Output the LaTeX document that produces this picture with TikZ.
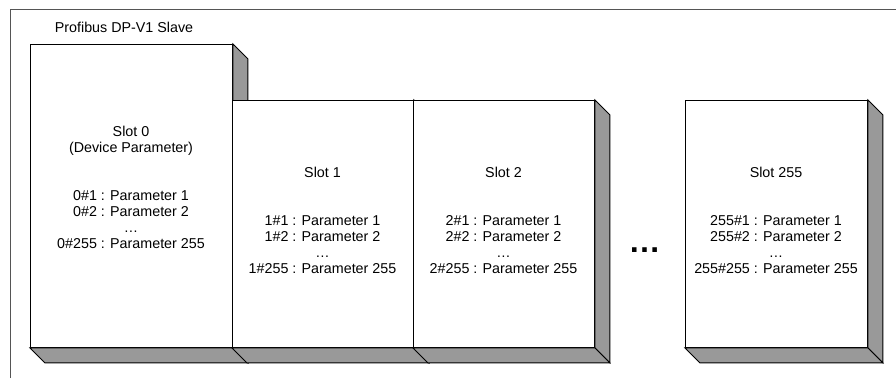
\documentclass[tikz,border=0pt]{standalone}
\usepackage{fontspec}
\setmainfont{Liberation Sans}
\definecolor{shade}{HTML}{999999}
\definecolor{framec}{HTML}{555555}
\begin{document}
\begin{tikzpicture}[x=1pt,y=-1pt,
  face/.style={draw=black, fill=white, line width=0.9pt, inner sep=0pt, anchor=north west},
  side/.style={draw=black, fill=shade, line width=0.9pt, line join=miter},
  txt/.style={font=\fontsize{14.3}{16}\selectfont, anchor=base, inner sep=0pt},
  dots/.style={font=\fontsize{32}{34}\selectfont\bfseries, anchor=base, inner sep=0pt},
  frame/.style={draw=framec, line width=1pt}]
\useasboundingbox (0,0) rectangle (896,378);
% outer frame (cut off at right and bottom)
\draw[frame] (10,378) -- (10,9.5) -- (896,9.5);
\node[txt] (title) at (124,32) {Profibus DP-V1 Slave};
% Slot 0
\node[face, minimum width=202pt, minimum height=303pt] (s0) at (30,44) {};
\draw[side] (s0.north east) -- ++(15,15) -- ([shift={(15,15)}]s0.south east) -- (s0.south east) -- cycle;
\draw[side] (s0.south west) -- (s0.south east) -- ++(15,15) -- ([shift={(15,15)}]s0.south west) -- cycle;
% Slot 1
\node[face, minimum width=181pt, minimum height=247pt] (s1) at (232,100) {};
\draw[side] (s1.north east) -- ++(15,15) -- ([shift={(15,15)}]s1.south east) -- (s1.south east) -- cycle;
\draw[side] (s1.south west) -- (s1.south east) -- ++(15,15) -- ([shift={(15,15)}]s1.south west) -- cycle;
% Slot 2
\node[face, minimum width=181pt, minimum height=247pt] (s2) at (413,100) {};
\draw[side] (s2.north east) -- ++(15,15) -- ([shift={(15,15)}]s2.south east) -- (s2.south east) -- cycle;
\draw[side] (s2.south west) -- (s2.south east) -- ++(15,15) -- ([shift={(15,15)}]s2.south west) -- cycle;
% Slot 255
\node[face, minimum width=182pt, minimum height=247pt] (s255) at (685,100) {};
\draw[side] (s255.north east) -- ++(15,15) -- ([shift={(15,15)}]s255.south east) -- (s255.south east) -- cycle;
\draw[side] (s255.south west) -- (s255.south east) -- ++(15,15) -- ([shift={(15,15)}]s255.south west) -- cycle;
% texts slot 0
\node[txt] (t0a) at (131,136) {Slot 0};
\node[txt] (t0b) at (131,152) {(Device Parameter)};
\node[txt] (t0c) at (131,200) {0\#1 : Parameter 1};
\node[txt] (t0d) at (131,216) {0\#2 : Parameter 2};
\node[txt] (t0e) at (131,232) {…};
\node[txt] (t0f) at (131,248) {0\#255 : Parameter 255};
% texts slot 1
\node[txt] (t1a) at (322.5,177) {Slot 1};
\node[txt] (t1c) at (322.5,225) {1\#1 : Parameter 1};
\node[txt] (t1d) at (322.5,241) {1\#2 : Parameter 2};
\node[txt] (t1e) at (322.5,257) {…};
\node[txt] (t1f) at (322.5,273) {1\#255 : Parameter 255};
% texts slot 2
\node[txt] (t2a) at (503.5,177) {Slot 2};
\node[txt] (t2c) at (503.5,225) {2\#1 : Parameter 1};
\node[txt] (t2d) at (503.5,241) {2\#2 : Parameter 2};
\node[txt] (t2e) at (503.5,257) {…};
\node[txt] (t2f) at (503.5,273) {2\#255 : Parameter 255};
% texts slot 255
\node[txt] (t3a) at (776,177) {Slot 255};
\node[txt] (t3c) at (776,225) {255\#1 : Parameter 1};
\node[txt] (t3d) at (776,241) {255\#2 : Parameter 2};
\node[txt] (t3e) at (776,257) {…};
\node[txt] (t3f) at (776,273) {255\#255 : Parameter 255};
% big ellipsis
\node[dots] (gap) at (644.5,252) {…};
\end{tikzpicture}
\end{document}
